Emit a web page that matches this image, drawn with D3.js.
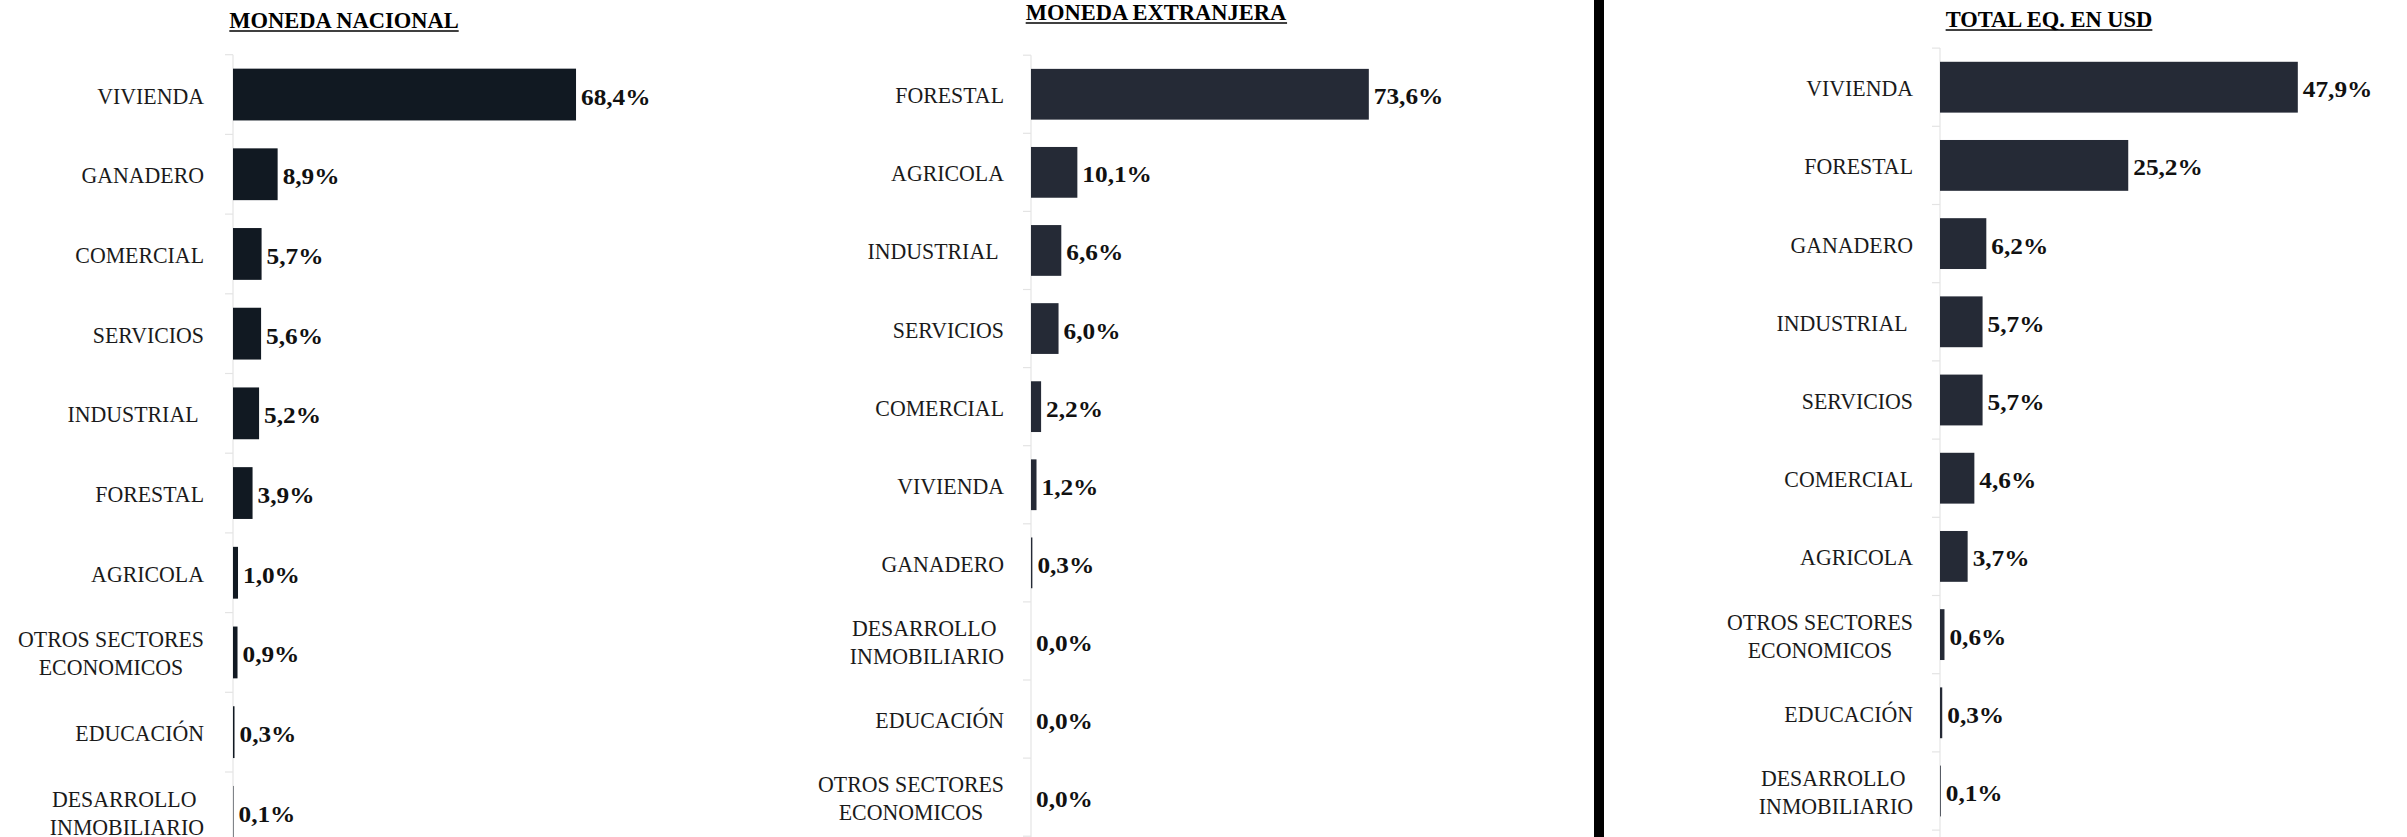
<!DOCTYPE html>
<html>
<head>
<meta charset="utf-8">
<script src="https://cdn.jsdelivr.net/npm/d3@7"></script>
<style>
  body { margin: 0; background: #fff; }
  svg { display: block; }
  text { font-family: "Liberation Serif", "Times New Roman", serif; }
</style>
</head>
<body>
<div id="chart"></div>
<script>
// Moneda nacional
const nacCats = ["VIVIENDA", "GANADERO", "COMERCIAL", "SERVICIOS", "INDUSTRIAL\u00a0", "FORESTAL",
                 "AGRICOLA", "OTROS SECTORES\nECONOMICOS", "EDUCACIÓN", "DESARROLLO\u00a0\nINMOBILIARIO"];
const nacVals = [68.4, 8.9, 5.7, 5.6, 5.2, 3.9, 1.0, 0.9, 0.3, 0.1];

// Moneda extranjera
const extCats = ["FORESTAL", "AGRICOLA", "INDUSTRIAL\u00a0", "SERVICIOS", "COMERCIAL", "VIVIENDA",
                 "GANADERO", "DESARROLLO\u00a0\nINMOBILIARIO", "EDUCACIÓN", "OTROS SECTORES\nECONOMICOS"];
const extVals = [73.6, 10.1, 6.6, 6.0, 2.2, 1.2, 0.3, 0.0, 0.0, 0.0];

// Total equivalente en USD
const usdCats = ["VIVIENDA", "FORESTAL", "GANADERO", "INDUSTRIAL\u00a0", "SERVICIOS", "COMERCIAL",
                 "AGRICOLA", "OTROS SECTORES\nECONOMICOS", "EDUCACIÓN", "DESARROLLO\u00a0\nINMOBILIARIO"];
const usdVals = [47.9, 25.2, 6.2, 5.7, 5.7, 4.6, 3.7, 0.6, 0.3, 0.1];

const panels = [
    {title: "MONEDA NACIONAL", cats: nacCats, vals: nacVals, color: "#111922",
     axisX: 233, labelEnd: 204, top: 54.7, step: 79.7, pxPerPct: 5.015, titleX: 344, titleY: 28},
    {title: "MONEDA EXTRANJERA", cats: extCats, vals: extVals, color: "#252a36",
     axisX: 1031, labelEnd: 1004, top: 55.2, step: 78.1, pxPerPct: 4.59, titleX: 1156, titleY: 20},
    {title: "TOTAL EQ. EN USD", cats: usdCats, vals: usdVals, color: "#252a36",
     axisX: 1940, labelEnd: 1913, top: 48.1, step: 78.2, pxPerPct: 7.47, titleX: 2049, titleY: 27}
];

const W = 2407, H = 837;
const fmt = v => d3.format(".1f")(v).replace(".", ",") + "%";

const svg = d3.select("#chart").append("svg")
    .attr("width", W)
    .attr("height", H);

// separador negro
svg.append("rect")
    .attr("x", 1594).attr("y", 0)
    .attr("width", 10).attr("height", H)
    .attr("fill", "#000");

panels.forEach(p => {
    const g = svg.append("g");

    const y = d3.scaleBand()
        .domain(p.cats)
        .range([p.top, p.top + p.step * p.cats.length])
        .paddingInner(0.35)
        .paddingOuter(0.175);

    const x = d3.scaleLinear()
        .domain([0, 100])
        .range([p.axisX, p.axisX + p.pxPerPct * 100]);

    // eje vertical con marcas entre categorias
    const gap = (y.step() - y.bandwidth()) / 2;
    const bounds = p.cats.map(c => y(c) - gap);
    bounds.push(bounds[bounds.length - 1] + y.step());

    g.append("line")
        .attr("x1", x(0)).attr("x2", x(0))
        .attr("y1", bounds[0]).attr("y2", H)
        .attr("stroke", "#e4e4e4").attr("stroke-width", 1.2);

    g.selectAll(".tick")
        .data(bounds)
        .join("line")
        .attr("class", "tick")
        .attr("x1", x(0) - 8).attr("x2", x(0))
        .attr("y1", d => d).attr("y2", d => d)
        .attr("stroke", "#e4e4e4").attr("stroke-width", 1.2);

    // barras
    g.selectAll(".bar")
        .data(p.cats)
        .join("rect")
        .attr("class", "bar")
        .attr("x", x(0))
        .attr("y", d => y(d))
        .attr("width", (d, i) => x(p.vals[i]) - x(0))
        .attr("height", y.bandwidth())
        .attr("fill", p.color);

    // valores (fuente algo ensanchada como en el original)
    g.selectAll(".val")
        .data(p.cats)
        .join("text")
        .attr("class", "val")
        .attr("transform", (d, i) =>
            `translate(${x(p.vals[i]) + 5},${y(d) + y.bandwidth() / 2 + 10}) scale(1.1,1)`)
        .attr("font-size", 23)
        .attr("font-weight", "bold")
        .attr("fill", "#111")
        .text((d, i) => fmt(p.vals[i]));

    // etiquetas de categoria (multilinea centradas entre si)
    p.cats.forEach(c => {
        const lines = c.split("\n");
        const cy = y(c) + y.bandwidth() / 2;
        const t = g.append("text")
            .attr("transform", `translate(${p.labelEnd},0) scale(0.93,1)`)
            .attr("font-size", 23.5)
            .attr("fill", "#1a1a1a")
            .attr("text-anchor", "middle");
        const first = cy + 9 - (lines.length - 1) * 14;
        const spans = lines.map((l, i) => t.append("tspan")
            .attr("y", first + i * 28)
            .text(l));
        const maxW = d3.max(spans, s => s.node().getComputedTextLength());
        spans.forEach(s => s.attr("x", -maxW / 2));
    });

    // titulo subrayado
    const title = g.append("text")
        .attr("x", p.titleX)
        .attr("y", p.titleY)
        .attr("text-anchor", "middle")
        .attr("font-size", 22.5)
        .attr("font-weight", "bold")
        .attr("fill", "#000")
        .text(p.title);
    const bb = title.node().getBBox();
    g.append("line")
        .attr("x1", bb.x).attr("x2", bb.x + bb.width)
        .attr("y1", p.titleY + 3).attr("y2", p.titleY + 3)
        .attr("stroke", "#000").attr("stroke-width", 1.6);
});
</script>
</body>
</html>
